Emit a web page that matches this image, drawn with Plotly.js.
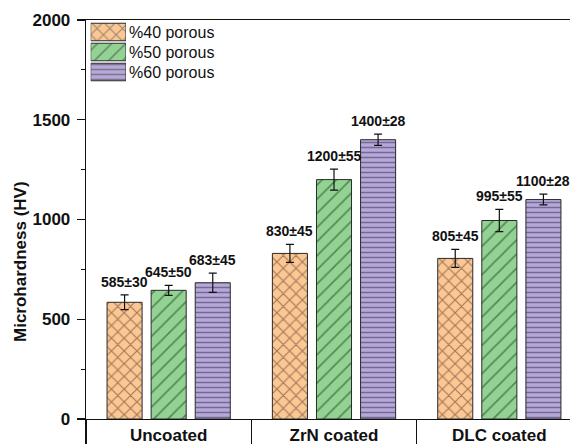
<!DOCTYPE html>
<html>
<head>
<meta charset="utf-8">
<script src="https://cdn.plot.ly/plotly-3.0.1.min.js"></script>
<style>
html,body{margin:0;padding:0;overflow:hidden;background:#fff;width:570px;height:444px;}
#chart{width:590px;height:444px;}
</style>
</head>
<body>
<div id="chart"></div>
<script>
const categories = ['Uncoated', 'ZrN coated', 'DLC coated'];
const seriesNames = ['%40 porous', '%50 porous', '%60 porous'];
const values40 = [585, 830, 805];
const values50 = [645, 1200, 995];
const values60 = [683, 1400, 1100];
const err40 = [37, 45, 45];
const err50 = [25, 53, 56];
const err60 = [48, 28, 27];
const labelErr40 = [30, 45, 45];
const labelErr50 = [50, 55, 55];
const labelErr60 = [45, 28, 28];
const yTicks = [0, 500, 1000, 1500, 2000];

const fills = ['#fbc795', '#92d393', '#b6a8d8'];
const lineCols = ['#4a2a18', '#1a3f1b', '#33284f'];
const shapes = ['x', '/', '-'];
const psizes = [9, 10, 5];
const solid = [0.24, 0.18, 0.3];

const vals = [values40, values50, values60];
const errs = [err40, err50, err60];
const lerrs = [labelErr40, labelErr50, labelErr60];
const FONT = 'Arial, "Liberation Sans", sans-serif';

const traces = vals.map((v, k) => ({
  type: 'bar', x: categories, y: v, name: seriesNames[k],
  marker: {color: fills[k], line: {color: '#2a2a2a', width: 1},
    pattern: {shape: shapes[k], fgcolor: lineCols[k], bgcolor: fills[k], size: psizes[k], solidity: solid[k], fillmode: 'overlay'}},
  error_y: {type: 'data', array: errs[k], visible: true, color: '#111', thickness: 1.2, width: 4},
  hoverinfo: 'skip', showlegend: false
}));

// invisible helper trace so the boundary-tick axis is drawn
traces.push({
  type: 'scatter', mode: 'markers', x: categories, y: values40, xaxis: 'x3', yaxis: 'y',
  marker: {opacity: 0, size: 1}, hoverinfo: 'skip', showlegend: false
});

// legend drawn as a small bar subplot
traces.push({
  type: 'bar', orientation: 'h', x: seriesNames.map(() => 1), y: seriesNames, base: 0,
  xaxis: 'x2', yaxis: 'y2', width: 0.875, showlegend: false, hoverinfo: 'skip',
  marker: {color: fills, line: {color: '#2a2a2a', width: 1},
    pattern: {shape: shapes, fgcolor: lineCols, bgcolor: fills, size: psizes, solidity: solid, fillmode: 'overlay'}}
});

const slot = 0.8 / 3;
const annotations = [];
vals.forEach((v, k) => {
  v.forEach((val, i) => {
    annotations.push({
      xref: 'x', yref: 'y', x: i + (k - 1) * slot, y: val + errs[k][i],
      text: val + '±' + lerrs[k][i], showarrow: false, yanchor: 'bottom', yshift: 3,
      font: {family: FONT, size: 14, color: '#111', weight: 'bold'}
    });
  });
});
annotations.push({
  xref: 'paper', yref: 'paper', x: (20 - 86) / 496, y: 1 - (262 - 20) / 399,
  text: 'Microhardness (HV)', textangle: -90, showarrow: false,
  xanchor: 'center', yanchor: 'middle',
  font: {family: FONT, size: 17, color: '#111', weight: 'bold'}
});

const layout = {
  width: 590, height: 444,
  margin: {l: 86, r: 8, t: 20, b: 25},
  paper_bgcolor: '#fff', plot_bgcolor: '#fff',
  barmode: 'group', bargap: 0.2, bargroupgap: 0.205,
  font: {family: FONT, color: '#111'},
  xaxis: {type: 'category', range: [-0.5, 2.5], showline: true, linecolor: '#111', linewidth: 1.3,
    mirror: true, ticks: '', showgrid: false, zeroline: false,
    tickfont: {family: FONT, size: 17, color: '#111', weight: 'bold'}, ticklabelstandoff: 0},
  xaxis3: {type: 'category', overlaying: 'x', anchor: 'y', range: [-0.5, 2.5], tickson: 'boundaries',
    ticks: 'outside', ticklen: 30, tickcolor: '#111', tickwidth: 1.3, showticklabels: false,
    showline: false, showgrid: false, zeroline: false},
  yaxis: {range: [0, 2000], tickvals: yTicks, showline: true, linecolor: '#111', linewidth: 1.3, mirror: true,
    ticks: 'outside', ticklen: 8, tickcolor: '#111', tickwidth: 1.2, showgrid: false, zeroline: false,
    minor: {ticks: 'outside', ticklen: 4, dtick: 250, tickcolor: '#111', tickwidth: 1.2, showgrid: false},
    tickfont: {family: FONT, size: 17, color: '#111', weight: 'bold'}, ticklabelstandoff: 3},
  xaxis2: {domain: [(90.7 - 86) / 496, (126 - 86) / 496], anchor: 'y2', range: [0, 1],
    showline: false, showgrid: false, zeroline: false, showticklabels: false, ticks: '', fixedrange: true},
  yaxis2: {domain: [1 - (82 - 20) / 399, 1 - (22 - 20) / 399], anchor: 'x2', type: 'category',
    range: [2.5, -0.5], side: 'right', showline: false, showgrid: false, zeroline: false, ticks: '',
    tickfont: {family: FONT, size: 16, color: '#111'}, ticklabelstandoff: 2},
  annotations: annotations,
  showlegend: false
};

Plotly.newPlot('chart', traces, layout, {displayModeBar: false, staticPlot: true});
</script>
</body>
</html>
